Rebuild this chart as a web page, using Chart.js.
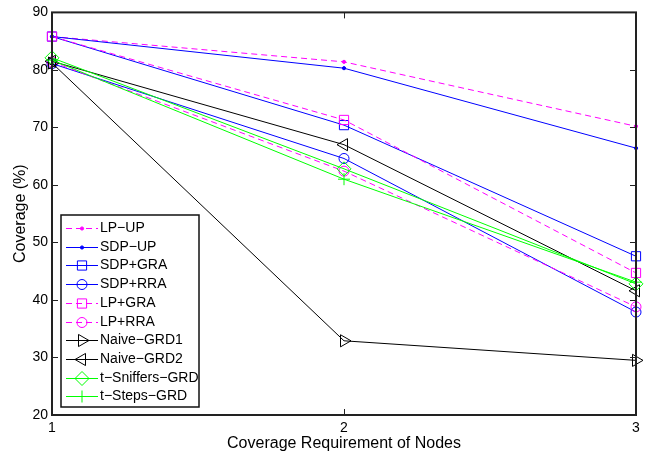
<!DOCTYPE html>
<html>
<head>
<meta charset="utf-8">
<script src="https://cdn.jsdelivr.net/npm/chart.js@4/dist/chart.umd.min.js"></script>
<style>
    html, body { margin: 0; padding: 0; background: #fff; }
    #wrap { position: relative; width: 653px; height: 458px; }
</style>
</head>
<body>
<div id="wrap"><canvas id="grafico"></canvas></div>
<script>
// Dados
const categorias = [1, 2, 3]
const nomes = ['LP−UP', 'SDP−UP', 'SDP+GRA', 'SDP+RRA', 'LP+GRA', 'LP+RRA', 'Naive−GRD1', 'Naive−GRD2', 't−Sniffers−GRD', 't−Steps−GRD']
const lpUp = [85.8, 81.4, 70.2]
const sdpUp = [85.8, 80.3, 66.4]
const sdpGra = [85.8, 70.4, 47.6]
const sdpRra = [81.1, 64.6, 37.9]
const lpGra = [85.8, 71.3, 44.7]
const lpRra = [81.4, 62.4, 38.8]
const naiveGrd1 = [81.2, 32.9, 29.5]
const naiveGrd2 = [81.5, 67.0, 41.6]
const tSniffers = [82.1, 62.8, 42.8]
const tSteps = [81.7, 61.0, 43.1]
const yTicks = [20, 30, 40, 50, 60, 70, 80, 90]

const FONTE = '"Liberation Sans", Arial, Helvetica, sans-serif'
const MAG = '#ff00ff', AZUL = '#0000ff', PRETO = '#000000', VERDE = '#00ff00'
const TRACO = [6, 4]

function pontos(valores) {
    return categorias.map((c, i) => ({ x: c, y: valores[i] }))
}

function serie(nome, valores, cor, dash, estilo, raio, rotacao, cheio) {
    return {
        label: nome,
        data: pontos(valores),
        borderColor: cor,
        backgroundColor: cor,
        borderWidth: 1,
        borderDash: dash,
        pointStyle: estilo,
        pointRadius: raio,
        pointRotation: rotacao,
        pointBorderColor: cor,
        pointBackgroundColor: cheio ? cor : 'rgba(0,0,0,0)',
        pointBorderWidth: 1,
        tension: 0,
        clip: false
    }
}

const datasets = [
    serie(nomes[0], lpUp, MAG, TRACO, 'circle', 1.6, 0, true),
    serie(nomes[1], sdpUp, AZUL, [], 'circle', 1.6, 0, true),
    serie(nomes[2], sdpGra, AZUL, [], 'rect', 6.5, 0, false),
    serie(nomes[3], sdpRra, AZUL, [], 'circle', 5, 0, false),
    serie(nomes[4], lpGra, MAG, TRACO, 'rect', 6.5, 0, false),
    serie(nomes[5], lpRra, MAG, TRACO, 'circle', 5, 0, false),
    serie(nomes[6], naiveGrd1, PRETO, [], 'triangle', 7, 90, false),
    serie(nomes[7], naiveGrd2, PRETO, [], 'triangle', 7, -90, false),
    serie(nomes[8], tSniffers, VERDE, [], 'rectRot', 7, 0, false),
    serie(nomes[9], tSteps, VERDE, [], 'cross', 6, 0, false)
]
// como no matlab: a última série fica por cima
datasets.forEach((ds, i) => { ds.order = datasets.length - i })

// Caixa do eixo + marcas de escala para dentro
const caixaPlugin = {
    id: 'caixa',
    afterDraw(chart) {
        const ctx = chart.ctx
        const a = chart.chartArea
        const sx = chart.scales.x, sy = chart.scales.y
        ctx.save()
        ctx.strokeStyle = '#222'
        ctx.setLineDash([])
        ctx.lineWidth = 1
        ctx.beginPath()
        yTicks.forEach(v => {
            const py = Math.round(sy.getPixelForValue(v)) + 0.5
            ctx.moveTo(a.left, py); ctx.lineTo(a.left + 6, py)
            ctx.moveTo(a.right, py); ctx.lineTo(a.right - 6, py)
        })
        categorias.forEach(c => {
            const px = Math.round(sx.getPixelForValue(c)) + 0.5
            ctx.moveTo(px, a.bottom); ctx.lineTo(px, a.bottom - 6)
            ctx.moveTo(px, a.top); ctx.lineTo(px, a.top + 6)
        })
        ctx.stroke()
        ctx.lineWidth = 2
        ctx.strokeRect(a.left, a.top, a.right - a.left, a.bottom - a.top)
        ctx.restore()
    }
}

// Legenda dentro do gráfico (canto inferior esquerdo)
const legendaPlugin = {
    id: 'legendaDentro',
    afterDraw(chart) {
        const ctx = chart.ctx
        const x0 = 61, y0 = 215, w = 138, h = 192
        const passo = 18.7
        ctx.save()
        ctx.fillStyle = '#fff'
        ctx.fillRect(x0, y0, w, h)
        ctx.strokeStyle = '#111'
        ctx.lineWidth = 1.5
        ctx.strokeRect(x0, y0, w, h)
        ctx.font = '14px ' + FONTE
        ctx.textBaseline = 'middle'
        chart.data.datasets.forEach((ds, i) => {
            const cy = Math.round(228 + i * passo) + 0.5
            ctx.strokeStyle = ds.borderColor
            ctx.lineWidth = 1
            ctx.setLineDash(ds.borderDash)
            ctx.beginPath()
            ctx.moveTo(66, cy); ctx.lineTo(98, cy)
            ctx.stroke()
            ctx.setLineDash([])
            ctx.fillStyle = ds.pointBackgroundColor
            Chart.helpers.drawPoint(ctx, {
                pointStyle: ds.pointStyle,
                radius: ds.pointRadius,
                rotation: ds.pointRotation,
                borderWidth: 1
            }, 82, cy)
            ctx.fillStyle = '#000'
            ctx.fillText(ds.label, 100, cy)
        })
        ctx.restore()
    }
}

const grafico = new Chart(document.getElementById('grafico'), {
    type: 'line',
    data: { datasets: datasets },
    options: {
        responsive: true,
        maintainAspectRatio: false,
        animation: false,
        layout: { padding: { top: 9, right: 17, left: 0, bottom: 0 } },
        plugins: {
            legend: { display: false },
            tooltip: { enabled: false }
        },
        scales: {
            x: {
                type: 'linear',
                min: 1,
                max: 3,
                grid: { display: false, drawTicks: false },
                border: { display: false },
                ticks: {
                    stepSize: 1,
                    padding: 5,
                    color: '#000',
                    font: { family: FONTE, size: 14 }
                },
                title: {
                    display: true,
                    text: 'Coverage Requirement of Nodes',
                    color: '#000',
                    font: { family: FONTE, size: 16 },
                    padding: { top: 0, bottom: 5 }
                },
                afterFit(scale) { scale.height = 43 }
            },
            y: {
                min: 20,
                max: 90,
                grid: { display: false, drawTicks: false },
                border: { display: false },
                ticks: {
                    stepSize: 10,
                    padding: 4,
                    color: '#000',
                    font: { family: FONTE, size: 14 }
                },
                title: {
                    display: true,
                    text: 'Coverage (%)',
                    color: '#000',
                    font: { family: FONTE, size: 16 },
                    padding: { top: 11, bottom: 0 }
                },
                afterFit(scale) { scale.width = 52 }
            }
        }
    },
    plugins: [caixaPlugin, legendaPlugin]
})
</script>
</body>
</html>
